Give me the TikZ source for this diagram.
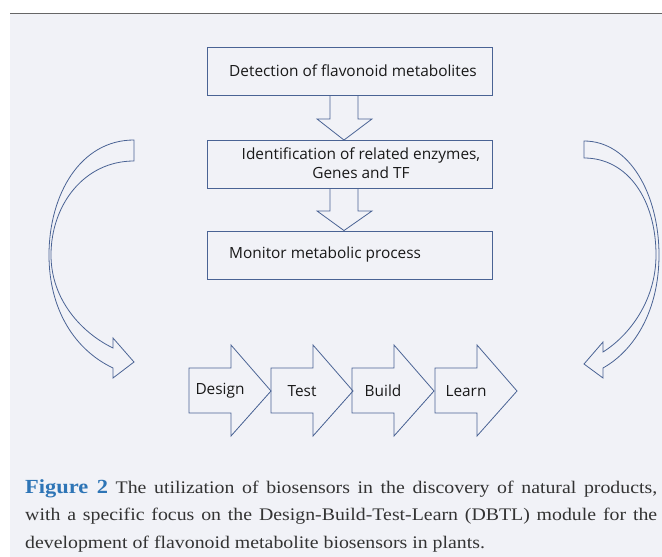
\documentclass[tikz,border=0pt]{standalone}
\usepackage{fontspec}
\setmainfont[FakeStretch=1.12]{Liberation Serif}
\newfontfamily\diagfont{Open Sans}
\usetikzlibrary{calc}
\definecolor{bg}{HTML}{F1F2F7}
\definecolor{edge}{HTML}{4A6394}
\definecolor{capblue}{HTML}{2E75B6}
\definecolor{captext}{HTML}{333333}
\tikzset{
  stage/.style={draw=edge, line width=0.9pt, minimum width=285pt, minimum height=48pt, inner sep=0pt},
  blockarrow/.style={draw=edge, line width=0.8pt, line join=miter},
  lbl/.style={font=\diagfont\fontsize{15.4}{19}\selectfont, text=black!90, inner sep=0pt},
}
\begin{document}
\begin{tikzpicture}[x=1pt,y=-1pt]
\useasboundingbox (0,0) rectangle (662,557);
\fill[white] (0,0) rectangle (662,557);
\fill[bg] (10,13) rectangle (662,557);
\draw[gray!80!black, line width=1pt] (10,13) -- (662,13);

% stage boxes
\node[stage] (b1) at (349.5,71.5) {};
\node[stage] (b2) at (349.5,164.5) {};
\node[stage] (b3) at (349.5,255) {};
\node[lbl, anchor=west] (t1) at (229,71) {Detection of flavonoid metabolites};
\node[lbl, align=center] (t2) at (361,163) {Identification of related enzymes,\\[0pt]Genes and TF};
\node[lbl, anchor=west] (t3) at (229,254) {Monitor metabolic process};

% down block arrows
\draw[blockarrow] ($(b1.south)+(-19.5,0)$) -- ($(b1.south)+(-19.5,23)$) -- ($(b1.south)+(-32.5,23)$)
  -- ($(b2.north)+(-5.5,0)$) -- ($(b1.south)+(22.5,23)$) -- ($(b1.south)+(8.5,23)$) -- ($(b1.south)+(8.5,0)$);
\draw[blockarrow] ($(b2.south)+(-19.5,0)$) -- ($(b2.south)+(-19.5,22)$) -- ($(b2.south)+(-32.5,22)$)
  -- ($(b3.north)+(-5.5,0)$) -- ($(b2.south)+(22.5,22)$) -- ($(b2.south)+(8.5,22)$) -- ($(b2.south)+(8.5,0)$);

% curved arrows
\draw[blockarrow] (134,140) .. controls (80,140) and (49,195) .. (49,255)
  .. controls (49,310) and (75,350) .. (113,368) -- (113,378) -- (134,362) -- (113,338) -- (113,348)
  .. controls (82,333) and (51,300) .. (51,255)
  .. controls (51,205) and (84,161) .. (134,161) -- cycle;
\draw[blockarrow] (584,141) .. controls (630,141) and (659,195) .. (659,255)
  .. controls (659,310) and (635,350) .. (603,368) -- (603,378) -- (584,364) -- (603,342) -- (603,352)
  .. controls (630,335) and (656,300) .. (656,255)
  .. controls (656,200) and (628,158) .. (584,158) -- cycle;

% DBTL arrows
\foreach \x/\t/\n in {189/Design/design, 271/Test/test, 352/Build/build, 435/Learn/learn}{
  \draw[blockarrow] (\x,368) -- (\x+42,368) -- (\x+42,345) -- (\x+82,391) -- (\x+42,436) -- (\x+42,413) -- (\x,413) -- cycle;
  \node[lbl] (\n) at (\x+31,391) {\t};
}

% caption
\node[anchor=north west, inner sep=0pt, text width=632pt, align=justify,
  font=\fontsize{17.7}{27.5}\selectfont, text=captext] (cap) at (25,479)
  {{\color{capblue}\bfseries\fontsize{20}{27.5}\selectfont Figure 2} The utilization of biosensors in the discovery of natural products,\linebreak with a specific focus on the Design-Build-Test-Learn (DBTL) module for the\linebreak development of flavonoid metabolite biosensors in plants.};
\end{tikzpicture}
\end{document}
